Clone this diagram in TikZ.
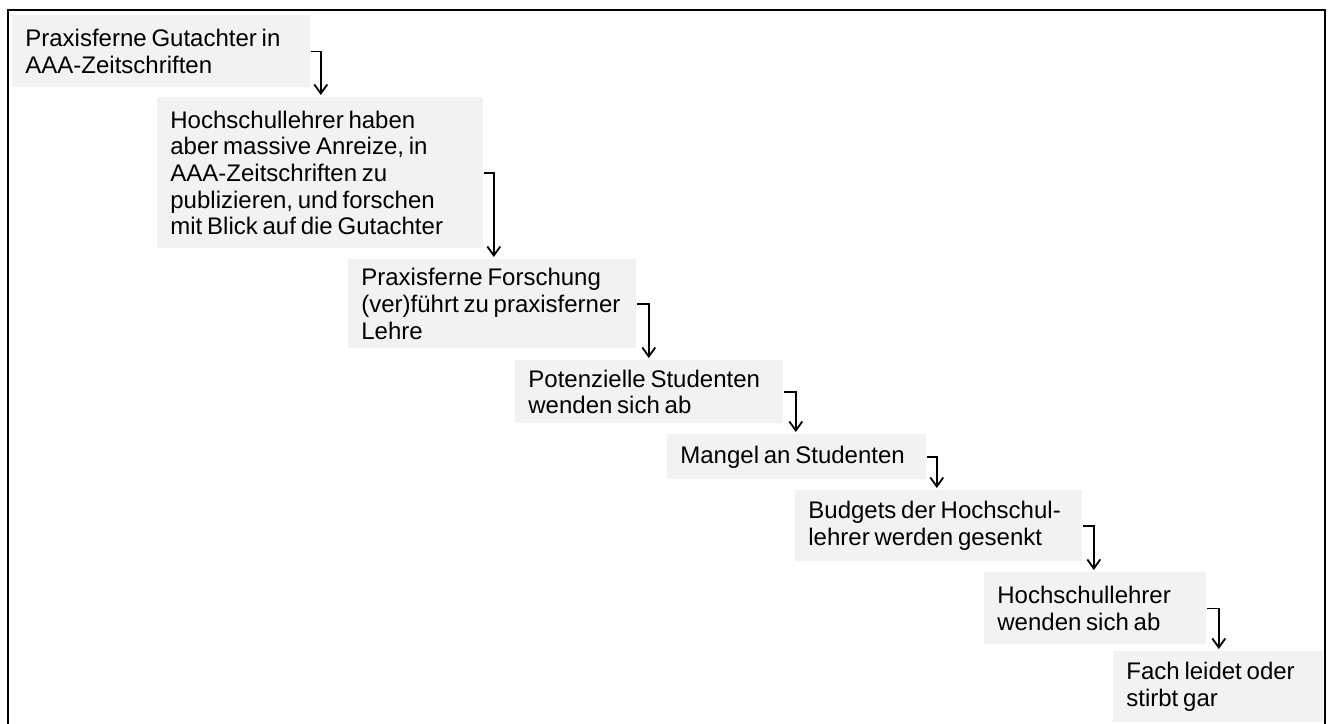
\documentclass[tikz,border=0pt]{standalone}
\usepackage{fontspec}
\setmainfont{Liberation Sans}
\usetikzlibrary{arrows.meta}
\definecolor{boxgray}{RGB}{242,242,242}

\begin{document}
\begin{tikzpicture}[
    x=0.5pt, y=-0.5pt,
    stage/.style 2 args={
        fill=boxgray, anchor=north west, align=left,
        inner xsep=0pt, inner ysep=0pt,
        text width=#1, minimum height=#2,
        execute at begin node={\leftskip=6.5pt\hyphenpenalty=10000
            \spaceskip=0.2em plus 0.05em minus 0.02em},
        font=\fontsize{12pt}{13.3pt}\selectfont},
    flow/.style={
        line width=0.9pt,
        -{Straight Barb[length=4.5pt,width=6.5pt]}},
    frame/.style={line width=1pt},
    ]
    \useasboundingbox (0,0) rectangle (1328,723);

    % frame (open at the bottom)
    \draw[frame] (8,730) -- (8,10) -- (1325,10) -- (1325,730);

    % chain of causes
    \node[stage={149pt}{36pt}] (b1) at (12,15)
        {Praxisferne Gutachter in\\AAA-Zeitschriften};
    \node[stage={163pt}{75.5pt}] (b2) at (157,97)
        {Hochschullehrer haben\\aber massive Anreize, in\\AAA-Zeitschriften zu\\publizieren, und forschen\\mit Blick auf die Gutachter};
    \node[stage={144pt}{44.5pt}] (b3) at (348,259)
        {Praxisferne Forschung\\(ver)führt zu praxisferner\\Lehre};
    \node[stage={134pt}{31.5pt}] (b4) at (515,360)
        {Potenzielle Studenten\\wenden sich ab};
    \node[stage={129.5pt}{22.5pt}] (b5) at (667,434)
        {Mangel an Studenten};
    \node[stage={143.5pt}{35.5pt}] (b6) at (795,490)
        {Budgets der Hochschul-\\lehrer werden gesenkt};
    \node[stage={111pt}{36pt}] (b7) at (984,572)
        {Hochschullehrer\\wenden sich ab};
    \node[stage={105pt}{35.5pt}] (b8) at (1113,651)
        {Fach leidet oder\\stirbt gar};

    % arrows: out to the right, then down
    \draw[flow] (b1.east) -| ([xshift=5pt,yshift=1pt]b2.north -| b1.east);
    \draw[flow] (b2.east) -| ([xshift=5pt,yshift=1pt]b3.north -| b2.east);
    \draw[flow] (b3.east) -| ([xshift=6pt,yshift=1pt]b4.north -| b3.east);
    \draw[flow] (b4.east) -| ([xshift=6pt,yshift=1pt]b5.north -| b4.east);
    \draw[flow] (b5.east) -| ([xshift=5pt,yshift=1pt]b6.north -| b5.east);
    \draw[flow] (b6.east) -| ([xshift=5.5pt,yshift=1pt]b7.north -| b6.east);
    \draw[flow] (b7.east) -| ([xshift=6pt,yshift=1pt]b8.north -| b7.east);
\end{tikzpicture}
\end{document}
